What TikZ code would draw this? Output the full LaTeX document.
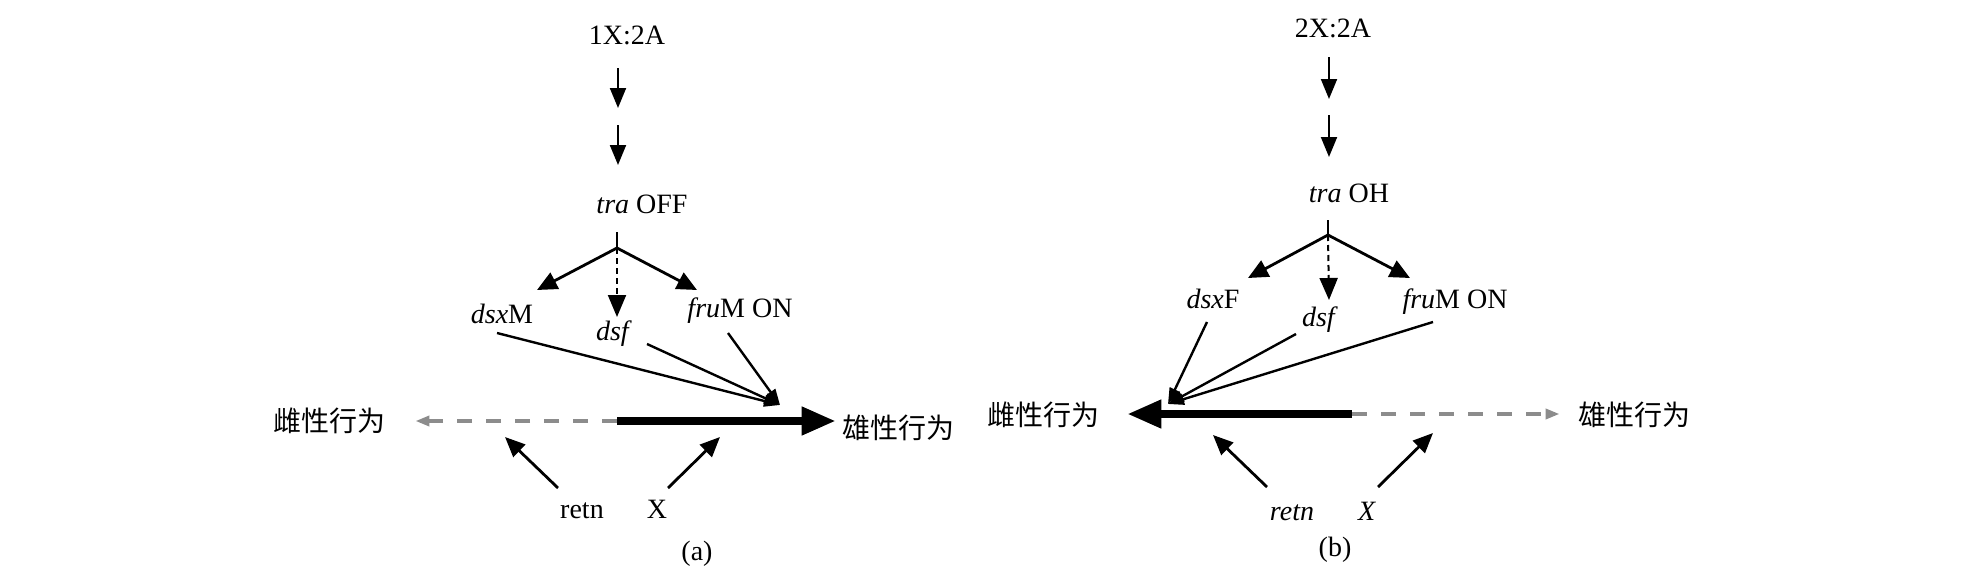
\documentclass[tikz,border=0pt]{standalone}
\usepackage{fontspec}
\setmainfont{Liberation Serif}
\newfontfamily\cjk{Noto Sans CJK SC}
\usetikzlibrary{arrows.meta}
\definecolor{dgray}{RGB}{140,140,140}
\begin{document}
\begin{tikzpicture}[x=0.5pt,y=-0.5pt,
  lbl/.style={inner sep=1pt, anchor=base, font=\fontsize{14}{16}\selectfont},
  cnl/.style={inner sep=2pt, font=\fontsize{14}{16}\selectfont\cjk},
  varr/.style={line width=1pt, -{Triangle[length=10pt,width=8pt]}},
  barr/.style={line width=1.4pt, -{Triangle[length=10pt,width=9pt]}},
  darr/.style={line width=1pt, dash pattern=on 3pt off 2pt, -{Triangle[length=11pt,width=9pt]}},
  carr/.style={line width=1.2pt, -{Triangle[length=8pt,width=5.5pt]}},
  cline/.style={line width=1.2pt},
  mainarr/.style={line width=3.8pt, -{Triangle[length=17pt,width=13.5pt]}},
  grarr/.style={line width=2pt, dgray, dash pattern=on 7.5pt off 7pt, -{Triangle[length=7pt,width=5pt]}},
  sarr/.style={line width=1.4pt, -{Triangle[length=10pt,width=8.5pt]}}]
\useasboundingbox (0,0) rectangle (1972,573);

% ---------------- panel (a)
\node[lbl] (topA) at (627,45) {1X:2A};
\node[lbl] (traA) at (642,213) {\textit{tra} OFF};
\node[lbl] (dsxA) at (502,323) {\textit{dsx}M};
\node[lbl] (dsfA) at (614,340) {\textit{dsf}};
\node[lbl] (fruA) at (740,317) {\textit{fru}M ON};
\node[cnl] (femA) at (329,421) {雌性行为};
\node[cnl] (malA) at (898,428) {雄性行为};
\node[lbl] (retnA) at (582,518) {retn};
\node[lbl] (xA) at (657,518) {X};
\node[lbl] (capA) at (697,560) {(a)};

\coordinate (a1s) at (618,68);  \coordinate (a1e) at (618,108);
\coordinate (a2s) at (618,125); \coordinate (a2e) at (618,165);
\coordinate (asT) at (617,232); \coordinate (aJ) at (617,248);
\coordinate (aL) at (537,290);  \coordinate (aR) at (697,290); \coordinate (aD) at (617,317);
\coordinate (aC1) at (497,333); \coordinate (aC2) at (647,344); \coordinate (aC3) at (728,333);
\coordinate (aC) at (780,405);
\coordinate (aM) at (617,421);
\coordinate (aRs) at (558,488); \coordinate (aRe) at (505,437);
\coordinate (aXs) at (668,488); \coordinate (aXe) at (720,437);

\draw[varr] (a1s) -- (a1e);
\draw[varr] (a2s) -- (a2e);
\draw[line width=1.2pt] (asT) -- (aJ);
\draw[barr] (aJ) -- (aL);
\draw[barr] (aJ) -- (aR);
\draw[darr] (aJ) -- (aD);
\draw[carr] (aC1) -- (aC);
\draw[carr] (aC2) -- (aC);
\draw[carr] (aC3) -- (aC);
\draw[grarr] (aM) -- ([xshift=13pt]femA.east);
\draw[mainarr] (aM) -- ([xshift=-1pt]malA.west |- aM);
\draw[sarr] (aRs) -- (aRe);
\draw[sarr] (aXs) -- (aXe);

% ---------------- panel (b)
\node[lbl] (topB) at (1333,37) {2X:2A};
\node[lbl] (traB) at (1349,202) {\textit{tra} OH};
\node[lbl] (dsxB) at (1213,308) {\textit{dsx}F};
\node[lbl] (dsfB) at (1320,326) {\textit{dsf}};
\node[lbl] (fruB) at (1455,308) {\textit{fru}M ON};
\node[cnl] (femB) at (1043,415) {雌性行为};
\node[cnl] (malB) at (1634,415) {雄性行为};
\node[lbl] (retnB) at (1292,520) {\textit{retn}};
\node[lbl] (xB) at (1367,520) {\textit{X}};
\node[lbl] (capB) at (1335,556) {(b)};

\coordinate (b1s) at (1329,57);  \coordinate (b1e) at (1329,99);
\coordinate (b2s) at (1329,115); \coordinate (b2e) at (1329,157);
\coordinate (bsT) at (1328,220); \coordinate (bJ) at (1328,235);
\coordinate (bL) at (1248,278);  \coordinate (bR) at (1410,278); \coordinate (bD) at (1329,300);
\coordinate (bC1) at (1207,322); \coordinate (bC2) at (1296,334); \coordinate (bC3) at (1433,322);
\coordinate (bC) at (1168,404);
\coordinate (bM) at (1352,414);
\coordinate (bRs) at (1267,487); \coordinate (bRe) at (1213,435);
\coordinate (bXs) at (1378,487); \coordinate (bXe) at (1433,433);

\draw[varr] (b1s) -- (b1e);
\draw[varr] (b2s) -- (b2e);
\draw[line width=1.2pt] (bsT) -- (bJ);
\draw[barr] (bJ) -- (bL);
\draw[barr] (bJ) -- (bR);
\draw[darr] (bJ) -- (bD);
\draw[carr] (bC1) -- (bC);
\draw[carr] (bC2) -- (bC);
\draw[carr] (bC3) -- (bC);
\draw[mainarr] (bM) -- ([xshift=12pt]femB.east |- bM);
\draw[grarr] (bM) -- ([xshift=-7pt]malB.west |- bM);
\draw[sarr] (bRs) -- (bRe);
\draw[sarr] (bXs) -- (bXe);
\end{tikzpicture}
\end{document}
